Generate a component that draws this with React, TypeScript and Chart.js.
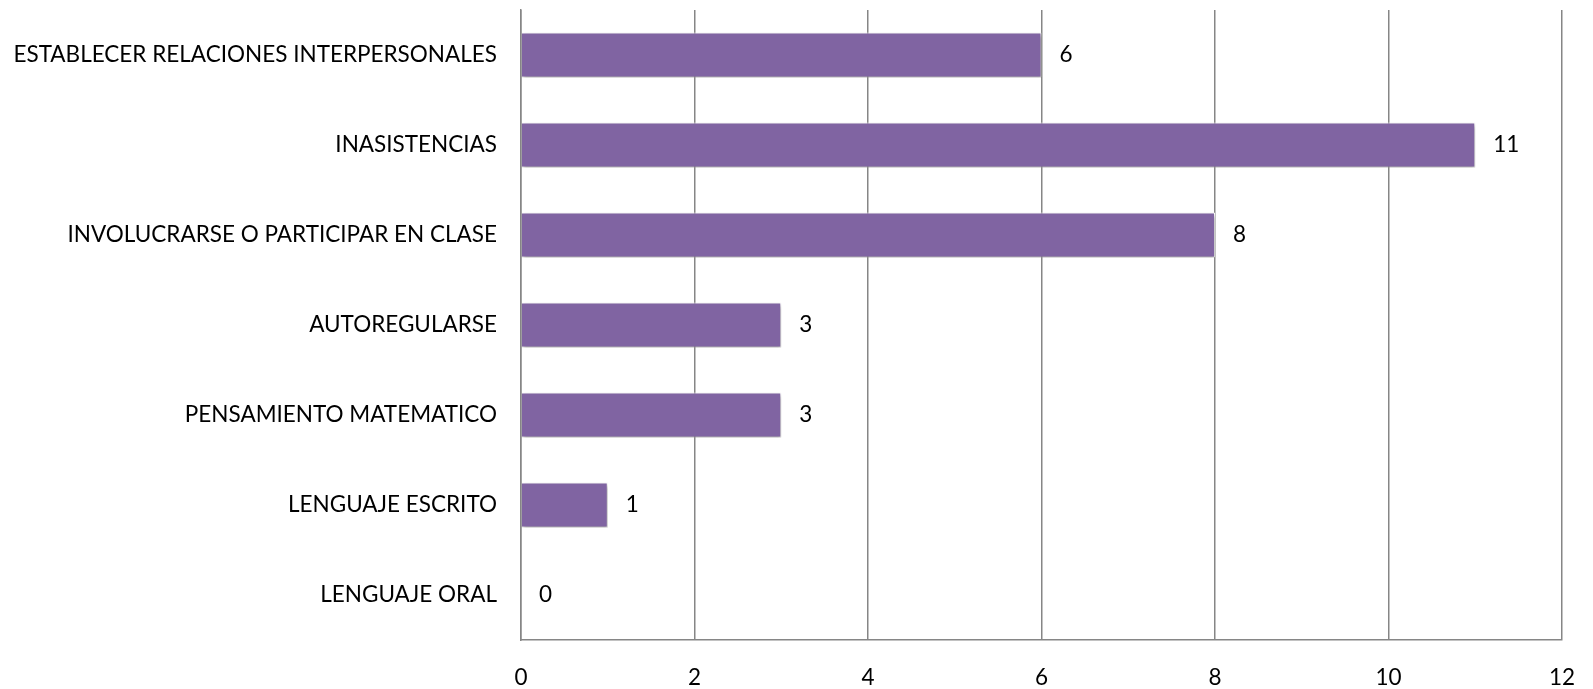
import React, { useEffect, useRef } from "react";
import { Chart, registerables } from "chart.js";

Chart.register(...registerables);

const categories = [
  "ESTABLECER RELACIONES INTERPERSONALES",
  "INASISTENCIAS",
  "INVOLUCRARSE O PARTICIPAR EN CLASE",
  "AUTOREGULARSE",
  "PENSAMIENTO MATEMATICO",
  "LENGUAJE ESCRITO",
  "LENGUAJE ORAL",
];
const values = [6, 11, 8, 3, 3, 1, 0];
const xTicks = [0, 2, 4, 6, 8, 10, 12];

const FONT = "Lato";
const FONT_SIZE = 22.5;
const GRID = "#868686";
const BAR = "#8064A2";

const shadowPlugin = {
  id: "barShadow",
  beforeDatasetsDraw(chart: any) {
    const ctx = chart.ctx;
    ctx.save();
    ctx.shadowColor = "rgba(0,0,0,0.35)";
    ctx.shadowBlur = 4;
    ctx.shadowOffsetX = 1;
    ctx.shadowOffsetY = 2;
  },
  afterDatasetsDraw(chart: any) {
    chart.ctx.restore();
  },
};

const valueLabelPlugin = {
  id: "valueLabels",
  afterDraw(chart: any) {
    const ctx = chart.ctx;
    const meta = chart.getDatasetMeta(0);
    ctx.save();
    ctx.font = `${FONT_SIZE}px ${FONT}`;
    ctx.fillStyle = "#000";
    ctx.textAlign = "left";
    ctx.textBaseline = "middle";
    meta.data.forEach((el: any, i: number) => {
      ctx.fillText(String(values[i]), el.x + 18, el.y);
    });
    ctx.restore();
  },
};

export default function App() {
  const ref = useRef<HTMLCanvasElement>(null);
  useEffect(() => {
    document.body.style.margin = "0";
    const chart = new Chart(ref.current!, {
      type: "bar",
      data: {
        labels: categories,
        datasets: [
          {
            data: values,
            backgroundColor: BAR,
            borderColor: "#ffffff",
            borderWidth: 1,
            categoryPercentage: 1,
            barPercentage: 0.5,
          },
        ],
      },
      options: {
        indexAxis: "y",
        animation: false,
        responsive: false,
        devicePixelRatio: 1,
        layout: { padding: { left: 0, right: 31, top: 10, bottom: 0 } },
        plugins: { legend: { display: false }, tooltip: { enabled: false } },
        scales: {
          x: {
            min: 0,
            max: 12,
            afterBuildTicks(scale: any) {
              scale.ticks = xTicks.map((v) => ({ value: v }));
            },
            afterFit(scale: any) {
              scale.height = 49;
              scale.paddingLeft = 0;
              scale.paddingRight = 0;
            },
            grid: { color: GRID, lineWidth: 1.5, drawTicks: false },
            border: { color: GRID, width: 1.5 },
            ticks: {
              padding: 24,
              color: "#000",
              font: { family: FONT, size: FONT_SIZE },
            },
          },
          y: {
            afterFit(scale: any) {
              scale.width = 521;
              scale.paddingTop = 0;
              scale.paddingBottom = 0;
            },
            grid: { display: false, drawTicks: false },
            border: { color: GRID, width: 1.5 },
            ticks: {
              padding: 24,
              color: "#000",
              autoSkip: false,
              font: { family: FONT, size: FONT_SIZE },
            },
          },
        },
      },
      plugins: [shadowPlugin, valueLabelPlugin],
    });
    return () => chart.destroy();
  }, []);
  return <canvas ref={ref} width={1593} height={689} style={{ display: "block" }} />;
}
